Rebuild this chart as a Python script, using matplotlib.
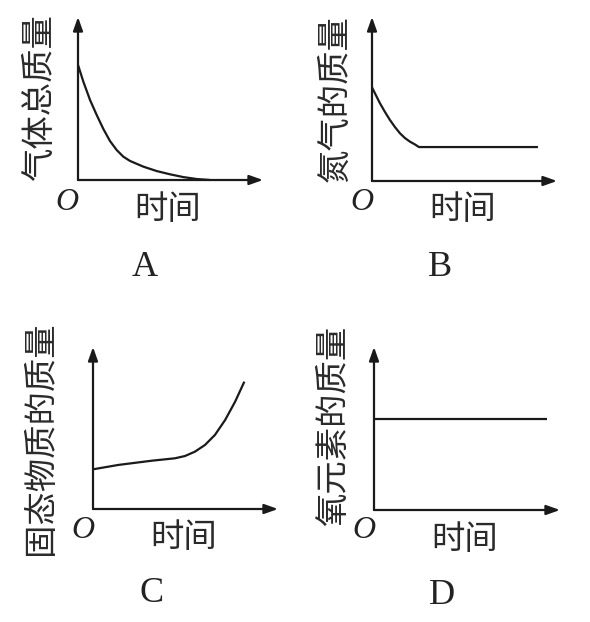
import matplotlib.pyplot as plt

plt.rcParams['font.family'] = ['Noto Sans CJK SC', 'DejaVu Sans']

W, H = 590, 622

# panel A: total gas mass vs time
time_a = [0, 0.29, 0.65, 1.01, 1.37, 1.73, 2.09, 2.45, 2.81, 3.53, 4.25, 4.97, 5.69, 6.42, 7.14]
mass_a = [7.06, 6.03, 4.91, 3.99, 3.13, 2.39, 1.84, 1.43, 1.17, 0.82, 0.55, 0.35, 0.18, 0.06, 0]

# panel B: nitrogen mass
time_b = [0, 0.22, 0.43, 0.70, 0.97, 1.24, 1.51, 1.78, 2.05, 2.32, 2.54, 8.97]
mass_b = [5.71, 5.21, 4.74, 4.21, 3.72, 3.29, 2.91, 2.62, 2.40, 2.23, 2.07, 2.07]

# panel C: solid mass
time_c = [0, 1.37, 3.17, 4.43, 4.97, 5.51, 6.05, 6.59, 7.14, 7.68, 8.18]
mass_c = [2.45, 2.72, 2.98, 3.13, 3.27, 3.54, 3.95, 4.57, 5.49, 6.62, 7.86]

# panel D: oxygen element mass
time_d = [0, 9.30]
mass_d = [5.58, 5.58]

ylabels = ["气体总质量", "氮气的质量", "固态物质的质量", "氧元素的质量"]
xlabel = "时间"
letters = ["A", "B", "C", "D"]

series = [(time_a, mass_a), (time_b, mass_b), (time_c, mass_c), (time_d, mass_d)]

# layout in pixels: origin x, origin y, arrow tip x, arrow tip y
frames = [(78, 180, 263, 17), (372, 181, 557, 17), (93, 509, 278, 347), (374, 510, 560, 347)]
ylab_pos = [(40, 98), (335, 99), (41, 438), (334, 426)]
o_pos = [(67, 203), (362, 202), (83, 531), (364, 531)]
xlab_pos = [(168, 210), (463, 210), (184, 537), (465, 540)]
letter_pos = [(145, 268), (440, 267), (152, 593), (442, 595)]


def fx(x):
    return x / W


def fy(y):
    return 1 - y / H


fig = plt.figure(figsize=(W / 100, H / 100), dpi=100)

for i in range(4):
    ox, oy, tx, ty = frames[i]
    ax = fig.add_axes([fx(ox), fy(oy), (tx - ox) / W, (oy - ty) / H])
    ax.set_xlim(0, 10)
    ax.set_ylim(0, 10)
    ax.axis("off")

    arrow = dict(arrowstyle="-|>,head_length=0.45,head_width=0.16", color="#1a1a1a",
                 lw=1.6, mutation_scale=18, shrinkA=0, shrinkB=0)
    ax.annotate("", xy=(1, 0), xytext=(0, 0), xycoords="axes fraction",
                arrowprops=arrow, annotation_clip=False)
    ax.annotate("", xy=(0, 1), xytext=(0, 0), xycoords="axes fraction",
                arrowprops=arrow, annotation_clip=False)

    t, m = series[i]
    ax.plot(t, m, color="#1a1a1a", lw=1.6, clip_on=False, solid_capstyle="butt")

    fig.text(fx(ylab_pos[i][0]), fy(ylab_pos[i][1]), ylabels[i], rotation=90,
             ha="center", va="center", fontsize=24, color="#2a2a2a")
    fig.text(fx(o_pos[i][0]), fy(o_pos[i][1]), "O", family="Liberation Serif",
             style="italic", ha="center", va="center", fontsize=23, color="#222222")
    fig.text(fx(xlab_pos[i][0]), fy(xlab_pos[i][1]), xlabel,
             ha="center", va="center", fontsize=24, color="#2a2a2a")
    fig.text(fx(letter_pos[i][0]), fy(letter_pos[i][1]), letters[i], family="Liberation Serif",
             ha="center", va="center", fontsize=26, color="#222222")

fig.savefig("out.png", dpi=100, facecolor="white")
